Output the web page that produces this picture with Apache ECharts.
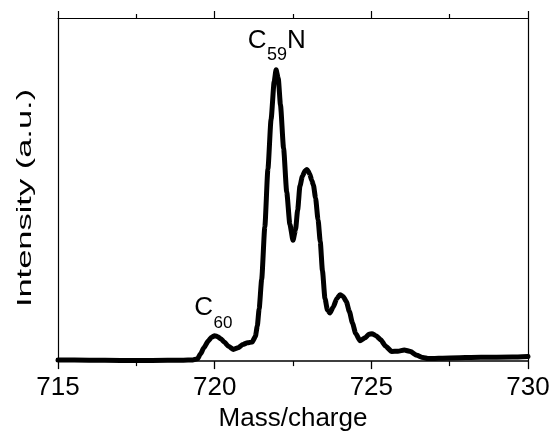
<!DOCTYPE html>
<html>
<head>
<meta charset="utf-8">
<script src="https://cdn.jsdelivr.net/npm/echarts@6/dist/echarts.min.js"></script>
<style>
html,body{margin:0;padding:0;background:#fff;}
#chart{width:559px;height:437px;}
</style>
</head>
<body>
<div id="chart"></div>
<script>
// Mass/charge positions (x) and intensity (a.u., main peak = 100)
const masses = [715, 716, 717, 718, 719, 719.3, 719.45, 719.55, 719.65, 719.8, 719.9, 720.0, 720.1, 720.2, 720.3, 720.45, 720.6, 720.75, 720.9, 721.05, 721.2, 721.3, 721.36, 721.42, 721.5, 721.6, 721.7, 721.8, 721.9, 721.96, 722.03, 722.1, 722.2, 722.3, 722.4, 722.5, 722.58, 722.65, 722.72, 722.8, 722.88, 722.95, 723.03, 723.1, 723.15, 723.22, 723.3, 723.37, 723.44, 723.52, 723.6, 723.68, 723.78, 723.9, 724.0, 724.1, 724.2, 724.3, 724.4, 724.5, 724.64, 724.8, 724.92, 725.02, 725.15, 725.3, 725.45, 725.65, 725.85, 726.05, 726.25, 726.45, 726.65, 726.8, 727.5, 728.5, 729.5, 730];
const intensity = [0.4, 0.3, 0.2, 0.2, 0.3, 0.4, 0.8, 2.5, 4.5, 7.0, 8.2, 8.7, 8.4, 7.6, 6.6, 5.0, 4.0, 4.6, 5.7, 6.3, 6.6, 8.5, 12, 18, 28, 46, 66, 83, 96, 100, 97, 88, 73, 58, 47, 41.5, 45, 52, 60, 63.5, 65.3, 65.8, 64.3, 62, 60.5, 56, 48.5, 41, 31, 21.5, 17.5, 16.5, 18.5, 21.5, 22.8, 22.2, 20.5, 17, 13, 9.5, 7.0, 8.0, 9.2, 9.4, 8.7, 7.3, 5.2, 3.3, 3.4, 3.8, 3.3, 2.0, 1.2, 0.9, 1.1, 1.3, 1.4, 1.6];
const xTicks = [715, 720, 725, 730];
const peakLabels = [
  {main: 'C', sub: '59', tail: 'N', at: [721.96, 100]},
  {main: 'C', sub: '60', tail: '', at: [720.0, 8.7]}
];

const FONT = '"Liberation Sans", Arial, Helvetica, sans-serif';
const chart = echarts.init(document.getElementById('chart'), null, {renderer: 'canvas'});
const data = masses.map((m, i) => [m, intensity[i]]);

const option = {
  animation: false,
  backgroundColor: '#fff',
  grid: {left: 58, right: 31, top: 18, bottom: 69},
  xAxis: [{
    type: 'value', min: xTicks[0], max: xTicks[xTicks.length - 1], interval: 5,
    position: 'bottom',
    name: 'Mass/charge', nameLocation: 'middle', nameGap: 40,
    nameTextStyle: {fontFamily: FONT, fontSize: 26, color: '#000'},
    axisLine: {show: true, onZero: false, lineStyle: {color: '#000', width: 1.5}},
    axisTick: {show: true, inside: false, length: 8, lineStyle: {color: '#000', width: 1.3}},
    minorTick: {show: true, splitNumber: 2, length: 5, lineStyle: {color: '#000', width: 1.2}},
    axisLabel: {show: true, margin: 14, fontFamily: FONT, fontSize: 26, color: '#000'},
    splitLine: {show: false}, minorSplitLine: {show: false}
  }, {
    type: 'value', min: xTicks[0], max: xTicks[xTicks.length - 1], interval: 5,
    position: 'top',
    axisLine: {show: true, onZero: false, lineStyle: {color: '#000', width: 1.2}},
    axisTick: {show: true, inside: false, length: 7, lineStyle: {color: '#000', width: 1.2}},
    minorTick: {show: true, splitNumber: 2, length: 4, lineStyle: {color: '#000', width: 1.2}},
    axisLabel: {show: false},
    splitLine: {show: false}, minorSplitLine: {show: false}
  }],
  yAxis: [{
    type: 'value', min: 0, max: 117.8, position: 'left',
    axisLine: {show: true, onZero: false, lineStyle: {color: '#000', width: 1.2}},
    axisTick: {show: false}, axisLabel: {show: false}, splitLine: {show: false}
  }, {
    type: 'value', min: 0, max: 117.8, position: 'right',
    axisLine: {show: true, onZero: false, lineStyle: {color: '#000', width: 1.2}},
    axisTick: {show: false}, axisLabel: {show: false}, splitLine: {show: false}
  }],
  series: [{
    type: 'line', xAxisIndex: 0, yAxisIndex: 0,
    data: data, showSymbol: false, symbol: 'none',
    smooth: 0.2, smoothMonotone: 'x',
    lineStyle: {color: '#000', width: 5, join: 'round', cap: 'round'}
  }]
};
chart.setOption(option);

// Annotations anchored to the peaks
const graphics = [];
peakLabels.forEach((p, idx) => {
  const pt = chart.convertToPixel({xAxisIndex: 0, yAxisIndex: 0}, p.at);
  const off = idx === 0 ? {c: [-19, -28.8], s: [1, -15], n: [20.2, -28.8], fs: 18}
                        : {c: [-11, -27.5], s: [8.4, -12.8], n: [0, 0], fs: 17};
  graphics.push({type: 'text', x: pt[0] + off.c[0], y: pt[1] + off.c[1],
    style: {text: p.main, font: '26px ' + FONT, fill: '#000', textAlign: 'center', textVerticalAlign: 'middle'}});
  graphics.push({type: 'text', x: pt[0] + off.s[0], y: pt[1] + off.s[1],
    style: {text: p.sub, font: off.fs + 'px ' + FONT, fill: '#000', textAlign: 'center', textVerticalAlign: 'middle'}});
  if (p.tail) {
    graphics.push({type: 'text', x: pt[0] + off.n[0], y: pt[1] + off.n[1],
      style: {text: p.tail, font: '26px ' + FONT, fill: '#000', textAlign: 'center', textVerticalAlign: 'middle'}});
  }
});
// Y axis title (stretched as in the reference)
graphics.push({type: 'text', x: 25, y: 198, rotation: Math.PI / 2, scaleX: 1.64, scaleY: 1,
  style: {text: 'Intensity (a.u.)', font: '21px ' + FONT, fill: '#000', textAlign: 'center', textVerticalAlign: 'middle'}});
chart.setOption({graphic: graphics});
</script>
</body>
</html>
